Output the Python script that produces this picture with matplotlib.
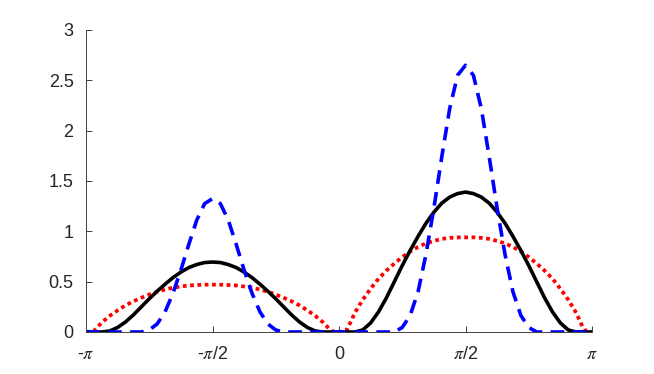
import numpy as np
import matplotlib
matplotlib.use("Agg")
import matplotlib.pyplot as plt

plt.rcParams['font.family'] = ['Liberation Sans', 'DejaVu Sans']
plt.rcParams['mathtext.fontset'] = 'stix'

# x grid in steps of pi/32, from -pi to pi
x = np.arange(-32, 33) * np.pi / 32

black = [0, 0, 0, 0.01, 0.045, 0.10, 0.17, 0.25, 0.33, 0.405, 0.475, 0.54, 0.595, 0.64, 0.67, 0.69, 0.695,
         0.69, 0.67, 0.64, 0.595, 0.54, 0.475, 0.405, 0.33, 0.25, 0.17, 0.10, 0.045, 0.01, 0, 0, 0,
         0, 0, 0.02, 0.09, 0.20, 0.34, 0.50, 0.66, 0.81, 0.95, 1.08, 1.19, 1.28, 1.34, 1.375, 1.39,
         1.375, 1.34, 1.28, 1.19, 1.08, 0.95, 0.81, 0.66, 0.50, 0.34, 0.20, 0.09, 0.02, 0, 0, 0]

red = [0, 0.01, 0.095, 0.16, 0.215, 0.265, 0.305, 0.34, 0.372, 0.40, 0.422, 0.44, 0.452, 0.462, 0.467, 0.47, 0.47,
       0.47, 0.467, 0.462, 0.452, 0.44, 0.422, 0.40, 0.372, 0.34, 0.305, 0.265, 0.215, 0.16, 0.095, 0.01, 0,
       0.02, 0.19, 0.32, 0.43, 0.53, 0.61, 0.68, 0.745, 0.80, 0.845, 0.88, 0.905, 0.925, 0.935, 0.94, 0.94,
       0.94, 0.935, 0.925, 0.905, 0.88, 0.845, 0.80, 0.745, 0.68, 0.61, 0.53, 0.43, 0.32, 0.19, 0.02, 0]

blue = [0, 0, 0, 0, 0, 0, 0, 0, 0.02, 0.08, 0.20, 0.385, 0.615, 0.87, 1.11, 1.275, 1.325,
        1.275, 1.11, 0.87, 0.615, 0.385, 0.20, 0.08, 0.02, 0, 0, 0, 0, 0, 0, 0, 0,
        0, 0, 0, 0, 0, 0, 0, 0.045, 0.165, 0.40, 0.77, 1.23, 1.74, 2.22, 2.55, 2.65,
        2.55, 2.22, 1.74, 1.23, 0.77, 0.40, 0.165, 0.045, 0, 0, 0, 0, 0, 0, 0, 0]

xticks = [-np.pi, -np.pi / 2, 0, np.pi / 2, np.pi]
xticklabels = [r'-$\pi$', r'-$\pi$/2', '0', r'$\pi$/2', r'$\pi$']
yticks = [0, 0.5, 1, 1.5, 2, 2.5, 3]
yticklabels = ['0', '0.5', '1', '1.5', '2', '2.5', '3']

fig = plt.figure(figsize=(6.54, 3.74), dpi=100)
ax = fig.add_axes([0.1315, 0.1123, 0.7737, 0.8075])

ax.plot(x, red, color='red', lw=2.7, linestyle=(0, (1, 0.95)))
ax.plot(x, black, color='black', lw=2.6)
ax.plot(x, blue, color='blue', lw=2.6, linestyle=(0, (3.8, 2.3)))

ax.set_xlim(-np.pi, np.pi)
ax.set_ylim(0, 3)
ax.set_xticks(xticks)
ax.set_xticklabels(xticklabels)
ax.set_yticks(yticks)
ax.set_yticklabels(yticklabels)

for s in ['top', 'right']:
    ax.spines[s].set_visible(False)
for s in ['left', 'bottom']:
    ax.spines[s].set_color('#404040')
    ax.spines[s].set_linewidth(0.7)
ax.tick_params(direction='in', length=4, width=0.7, color='#404040',
               labelsize=13, labelcolor='#262626')
ax.tick_params(axis='x', pad=10)
ax.tick_params(axis='y', pad=9)

fig.savefig('out.png', dpi=100)
